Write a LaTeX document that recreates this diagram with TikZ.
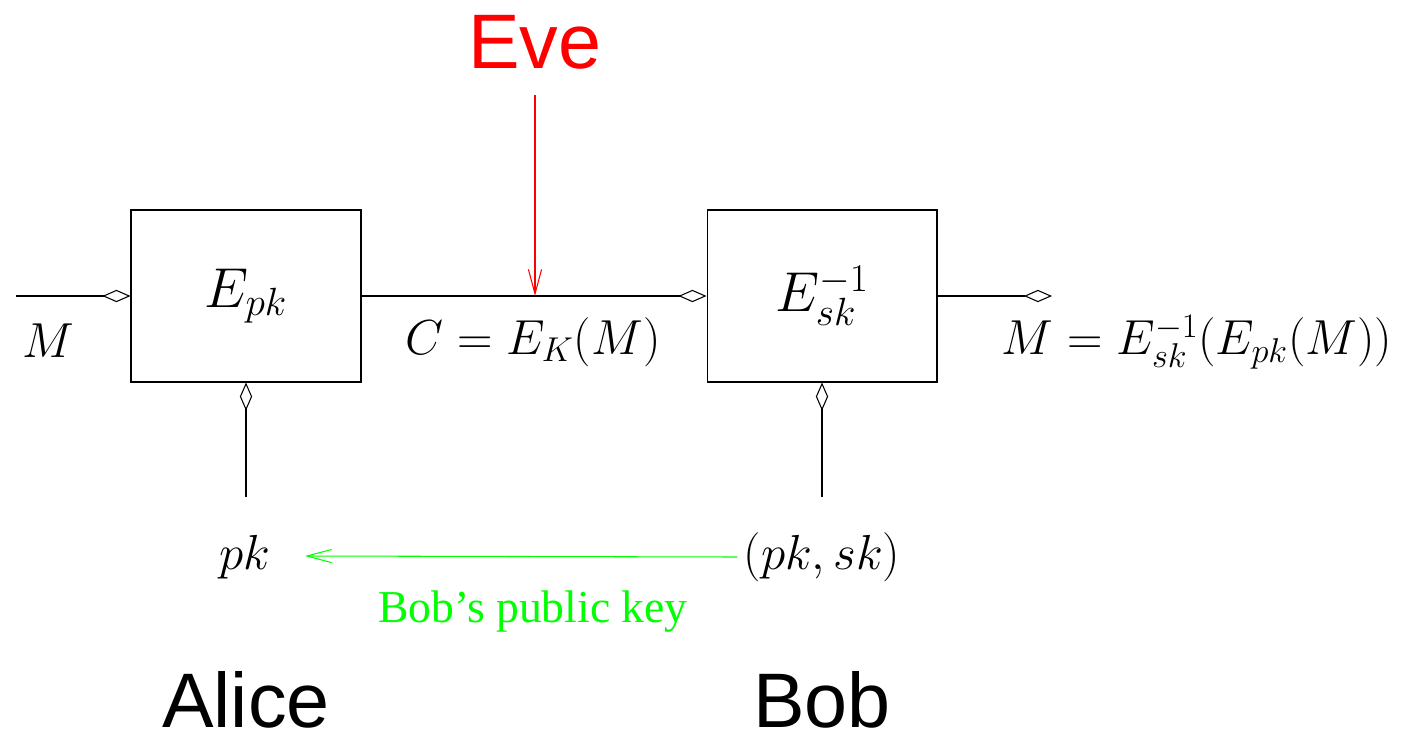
\RequirePackage{fix-cm}
\documentclass[tikz,border=0pt]{standalone}
\usepackage{fontspec}
\newfontfamily\helv{Liberation Sans}
\newfontfamily\tms{Liberation Serif}
\usetikzlibrary{arrows.meta,positioning}

\begin{document}
\begin{tikzpicture}[x=0.02cm, y=-0.02cm, line width=0.6pt,
  block/.style={draw, minimum width=4.6cm, minimum height=3.44cm, inner sep=0pt,
    font=\fontsize{32}{38}\selectfont},
  lbl/.style={font=\fontsize{28}{33}\selectfont},
  who/.style={inner sep=0pt, font=\helv\fontsize{44}{50}\selectfont},
  feed/.style={-{Diamond[open, length=16pt, width=7pt]}},
  tap/.style={-{Straight Barb[length=14pt, width=7.5pt]}}]
\useasboundingbox (0,0) rectangle (1417,734);
\node[block] (enc) at (246,296) {$E_{pk}$};
\node[block] (dec) at (822,296) {$E_{sk}^{-1}$};
\coordinate (in) at (16,296);
\coordinate (out) at (1052,296);
\coordinate (mid) at (535,296);
\coordinate (ka) at (246,497);
\coordinate (kb) at (822,497);
\coordinate (pkend) at (305,556);
\draw[feed] (in) -- (enc.west);
\draw[feed] (enc.east) -- (dec.west);
\draw[feed] (dec.east) -- (out);
\draw[feed] (ka) -- (enc.south);
\draw[feed] (kb) -- (dec.south);
% labels on the lines
\node[lbl] (m) at (48,341) {$M$};
\node[lbl] (c) at (533,342) {$C = E_K(M)$};
\node[lbl] (res) at (1197,342) {$M = E_{sk}^{-1}(E_{pk}(M))$};
\node[lbl] (pk) at (245,557) {$pk$};
\node[lbl] (pair) at (822,557) {$(pk,sk)$};
\draw[tap, green] (pair.west) -- (pkend);
\node[green, font=\tms\fontsize{26}{30}\selectfont] (pub) at (533,612) {Bob’s public key};
% the parties
\node[who, red] (eve) at (535,42) {Eve};
\draw[tap, red] (535,95) -- (mid);
\node[who] (alice) at (246,700) {Alice};
\node[who] (bob) at (822,700) {Bob};
\end{tikzpicture}
\end{document}
